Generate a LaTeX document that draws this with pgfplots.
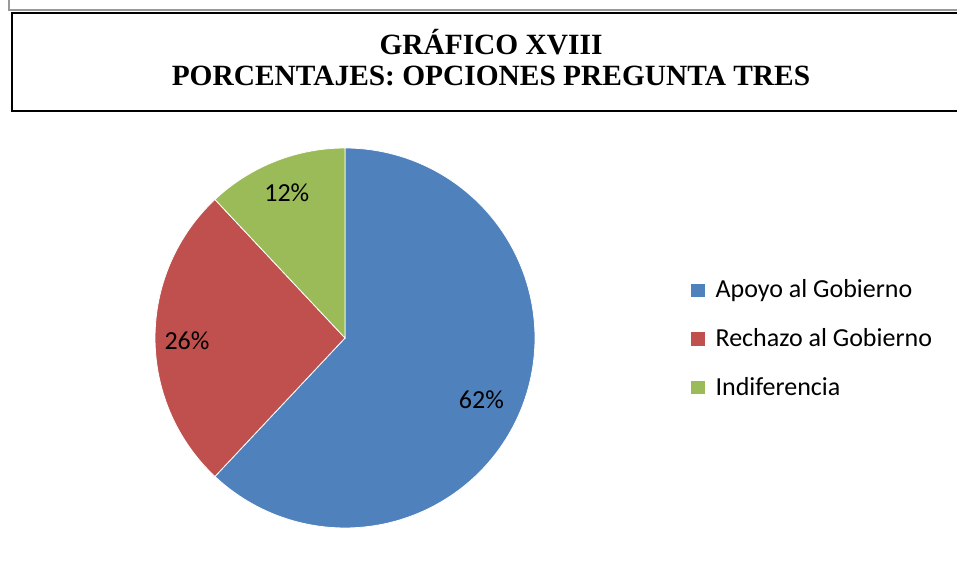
\documentclass[border=0pt]{standalone}
\usepackage{fontspec}
\setmainfont{Liberation Serif}
\newfontfamily\calibri{Carlito}
\usepackage{pgfplots}
\usepackage{pgfplotstable}
\pgfplotsset{compat=1.18}

\definecolor{cblue}{HTML}{4F81BD}
\definecolor{cred}{HTML}{C0504D}
\definecolor{cgreen}{HTML}{9BBB59}

% porcentajes por opcion
\pgfplotstableread[col sep=comma]{
label,value
Apoyo al Gobierno,62
Rechazo al Gobierno,26
Indiferencia,12
}\piedata

\begin{document}
\begin{tikzpicture}
\pgfplotstablegetelem{0}{value}\of\piedata \let\va\pgfplotsretval
\pgfplotstablegetelem{1}{value}\of\piedata \let\vb\pgfplotsretval
\pgfplotstablegetelem{2}{value}\of\piedata \let\vc\pgfplotsretval
% angles, clockwise from the top
\pgfmathsetmacro\aA{90}
\pgfmathsetmacro\aB{\aA-3.6*\va}
\pgfmathsetmacro\aC{\aB-3.6*\vb}
\pgfmathsetmacro\aD{\aC-3.6*\vc}
\pgfmathsetmacro\mA{(\aA+\aB)/2}
\pgfmathsetmacro\mB{(\aB+\aC)/2}
\pgfmathsetmacro\mC{(\aC+\aD)/2}
\begin{axis}[
    at={(0,0)}, anchor=south west,
    scale only axis, width=478.5pt, height=290.5pt,
    xmin=0, xmax=957, ymin=0, ymax=581, enlargelimits=false,
    hide axis, clip=false,
    legend cell align=left,
    legend style={draw=none, fill=none, font=\calibri\fontsize{13}{15}\selectfont,
        at={(axis cs:690,305.5)}, anchor=north west, row sep=9.75pt,
        column sep=3pt, inner sep=0pt},
    legend image code/.code={\fill[#1] (0pt,-3.6pt) rectangle (7.2pt,3.6pt);},
]
\coordinate (ll) at (axis cs:0,0);
\coordinate (ur) at (axis cs:957,581);
% frame
\draw[gray!80, line width=1.2pt] (axis cs:9,581) -- (axis cs:9,571) -- (axis cs:957,571);
\draw[black, line width=1.2pt] (axis cs:957,568) -- (axis cs:12,568) -- (axis cs:12,470) -- (axis cs:957,470);
\node[font=\bfseries\fontsize{14.7}{15.5}\selectfont, align=center] at (axis cs:491,523)
    {GRÁFICO XVIII\\PORCENTAJES: OPCIONES PREGUNTA TRES};
% pie
\addplot[fill=cblue, draw=white, line width=0.4pt, domain=\aB:\aA, samples=120]
    ({345+190*cos(x)}, {243+190*sin(x)}) -- (axis cs:345,243) -- cycle;
\addplot[fill=cred, draw=white, line width=0.4pt, domain=\aC:\aB, samples=60]
    ({345+190*cos(x)}, {243+190*sin(x)}) -- (axis cs:345,243) -- cycle;
\addplot[fill=cgreen, draw=white, line width=0.4pt, domain=\aD:\aC, samples=30]
    ({345+190*cos(x)}, {243+190*sin(x)}) -- (axis cs:345,243) -- cycle;
\legend{Apoyo al Gobierno, Rechazo al Gobierno, Indiferencia}
% labels
\node[font=\calibri\fontsize{13}{15}\selectfont] at (axis cs:{342+150*cos(\mA)},{243+150*sin(\mA)-7}) {\va\%};
\node[font=\calibri\fontsize{13}{15}\selectfont] at (axis cs:{345+158*cos(\mB)},{243+150*sin(\mB)-3}) {\vb\%};
\node[font=\calibri\fontsize{13}{15}\selectfont] at (axis cs:{342+150*cos(\mC)},{243+150*sin(\mC)+6}) {\vc\%};
\end{axis}
\pgfresetboundingbox
\path (ll) rectangle (ur);
\end{tikzpicture}
\end{document}
